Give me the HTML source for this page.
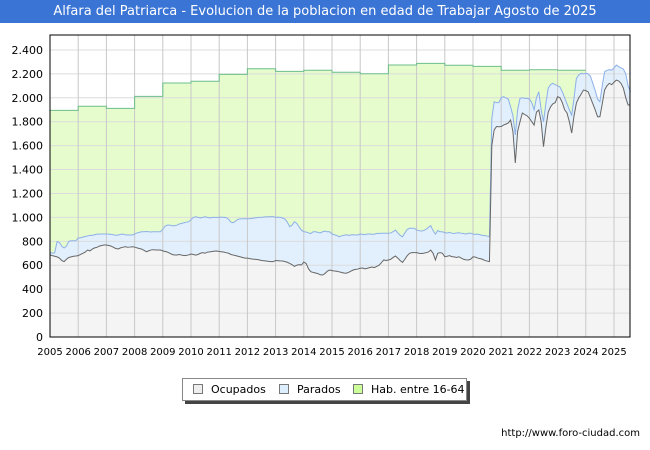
<!DOCTYPE html>
<html><head><meta charset="utf-8"><style>
body{margin:0;background:#fff;}
#wrap{position:relative;width:650px;height:450px;overflow:hidden;font-family:"DejaVu Sans","Liberation Sans",sans-serif;}
#title{position:absolute;left:0;top:0;width:650px;height:23px;background:#3a74d4;color:#fff;font-size:13px;line-height:23px;text-align:center;}
#url{position:absolute;right:10px;top:428px;font-size:10px;color:#000;}
#legend{position:absolute;left:182px;top:378px;width:283px;height:21px;border:1px solid #888;background:#fff;box-shadow:3px 3px 0 #444;font-size:11px;white-space:nowrap;}
.li{position:absolute;top:4px;white-space:nowrap;}
.sw{display:inline-block;width:8px;height:8px;border:1px solid #777;margin-right:8px;vertical-align:-1px;}
</style></head><body>
<div id="wrap">
<div id="title">Alfara del Patriarca - Evolucion de la poblacion en edad de Trabajar Agosto de 2025</div>
<svg id="chart" width="650" height="450" style="position:absolute;left:0;top:0"></svg>
<div id="legend">
<span class="li" style="left:10px"><span class="sw" style="background:#eee"></span>Ocupados</span>
<span class="li" style="left:96px"><span class="sw" style="background:#ddeeff"></span>Parados</span>
<span class="li" style="left:170px"><span class="sw" style="background:#ccff99"></span>Hab. entre 16-64</span>
</div>
<div id="url">http://www.foro-ciudad.com</div>
</div>
<script>
const yTicks=[0,200,400,600,800,1000,1200,1400,1600,1800,2000,2200,2400];
const yLabels=["0","200","400","600","800","1.000","1.200","1.400","1.600","1.800","2.000","2.200","2.400"];
const years=[2005,2006,2007,2008,2009,2010,2011,2012,2013,2014,2015,2016,2017,2018,2019,2020,2021,2022,2023,2024,2025];
const habYears=[2005,2006,2007,2008,2009,2010,2011,2012,2013,2014,2015,2016,2017,2018,2019,2020,2021,2022,2023];
const hab=[1895,1929,1912,2012,2124,2138,2196,2243,2221,2230,2214,2201,2274,2288,2272,2263,2230,2235,2230];
const ocupados=[
686,680,675,670,660,640,630,650,665,670,675,677,
680,690,700,710,727,720,735,745,750,760,765,769,
769,765,760,750,740,736,745,750,755,750,752,755,
752,745,740,735,725,713,720,728,730,727,727,727,
720,715,710,700,690,686,686,690,685,680,682,686,
694,690,685,690,700,705,700,710,712,715,718,719,
715,713,710,705,700,690,685,680,675,670,665,660,
660,655,652,650,648,645,640,638,635,632,630,630,
640,638,636,635,630,625,615,605,590,600,605,602,
627,615,570,546,540,535,530,520,518,530,550,560,
555,552,550,545,540,535,533,540,550,560,565,568,
575,577,570,575,580,585,580,590,600,620,644,640,
644,650,665,677,660,640,624,650,680,700,705,705,
705,700,698,700,705,710,727,700,644,700,705,700,
671,675,680,672,670,665,671,660,650,645,644,650,
671,668,660,655,650,640,635,630,1600,1730,1760,1758,
1760,1772,1780,1790,1814,1716,1455,1720,1800,1873,1860,1850,
1830,1800,1772,1880,1898,1800,1591,1750,1880,1925,1950,1960,
2009,2000,1960,1900,1873,1800,1705,1850,1956,2000,2030,2065,
2060,2050,2000,1950,1900,1842,1842,1950,2065,2100,2121,2110,
2130,2148,2140,2120,2080,2000,1940,1940];
const parados=[
20,20,30,127,130,120,114,110,135,135,130,128,
148,140,135,130,118,130,115,110,110,100,96,92,
92,95,98,105,110,117,113,110,100,103,101,98,
108,125,135,145,155,169,160,150,150,153,153,153,
180,213,225,235,240,244,249,255,265,275,278,278,
286,310,320,310,295,295,305,290,283,285,282,281,
285,289,290,293,285,270,271,290,310,318,324,329,
329,335,340,345,350,355,360,365,370,373,376,376,
360,364,364,360,355,335,307,330,374,350,315,292,
253,263,300,319,340,345,345,350,362,355,330,320,
306,303,300,293,305,315,322,310,303,295,288,285,
286,281,285,285,282,273,280,275,266,247,223,227,
223,220,215,217,210,210,214,220,220,209,204,204,
189,190,187,190,195,205,204,190,216,190,175,180,
201,195,195,196,195,205,201,208,215,215,223,217,
190,190,200,200,200,208,209,210,228,237,200,202,
240,237,220,200,111,134,234,180,195,127,135,145,
160,160,128,120,152,100,209,200,200,185,171,150,
91,90,90,100,77,100,151,150,207,190,175,135,
145,150,180,170,160,148,125,150,153,130,114,120,
120,126,120,130,160,200,160,111];

const L=50,R=630,T=35,B=337;
const X=t=>L+(t-2005)*28.2;
const Y=v=>B-v*0.1196;
const svg=document.getElementById('chart');
const NS='http://www.w3.org/2000/svg';
function mk(tag,attrs){const e=document.createElementNS(NS,tag);for(const k in attrs)e.setAttribute(k,attrs[k]);svg.appendChild(e);return e;}

const bg=mk('rect',{x:L,y:T,width:R-L,height:B-T,fill:'#fff'});



let hp=`M${X(habYears[0])},${Y(0)}`;
habYears.forEach((yr,i)=>{hp+=` L${X(yr)},${Y(hab[i])} L${X(yr+1)},${Y(hab[i])}`;});
hp+=` L${X(habYears[habYears.length-1]+1)},${Y(0)} Z`;
const ha=mk('path',{d:hp,fill:'#e6fccc',stroke:'none'});



const tx=i=>X(2005+i/12);
let tp=`M${tx(0)},${Y(0)}`,tl='';
ocupados.forEach((o,i)=>{tp+=` L${tx(i)},${Y(o+parados[i])}`;tl+=(i?' L':'M')+`${tx(i)},${Y(o+parados[i])}`;});
tp+=` L${tx(ocupados.length-1)},${Y(0)} Z`;
const pa=mk('path',{d:tp,fill:'#e2f0fe',stroke:'none'});



let op=`M${tx(0)},${Y(0)}`,ol='';
ocupados.forEach((o,i)=>{op+=` L${tx(i)},${Y(o)}`;ol+=(i?' L':'M')+`${tx(i)},${Y(o)}`;});
op+=` L${tx(ocupados.length-1)},${Y(0)} Z`;
const oa=mk('path',{d:op,fill:'#f4f4f4',stroke:'none'});



yTicks.forEach((v,i)=>{
  if(v>0){const g=mk('line',{x1:L,x2:R,y1:Y(v),y2:Y(v),stroke:'#dcdcdc','stroke-width':1});
  
  }
  const t=mk('text',{x:L-7,y:Y(v)+4,'text-anchor':'end','font-size':'11','font-family':'DejaVu Sans, Liberation Sans, sans-serif',fill:'#000'});
  t.textContent=yLabels[i];
  
  
});
years.forEach(yr=>{
  if(yr>2005){const g=mk('line',{x1:X(yr),x2:X(yr),y1:T,y2:B,stroke:'#c8c8c8','stroke-width':1});
  
  }
  const t=mk('text',{x:X(yr),y:355,'text-anchor':'middle','font-size':'10','font-family':'DejaVu Sans, Liberation Sans, sans-serif',fill:'#000'});
  t.textContent=String(yr);
  
  
});

let hl='';
habYears.forEach((yr,i)=>{hl+=(i?' L':'M')+`${X(yr)},${Y(hab[i])} L${X(yr+1)},${Y(hab[i])}`;});
const hline=mk('path',{d:hl,fill:'none',stroke:'#6cbf8c','stroke-width':1});


const pline=mk('path',{d:tl,fill:'none',stroke:'#8cb0e8','stroke-width':1});


const oline=mk('path',{d:ol,fill:'none',stroke:'#666','stroke-width':1});



const fr=mk('rect',{x:L,y:T,width:R-L,height:B-T,fill:'none',stroke:'#000','stroke-width':1});


</script>
</body></html>
